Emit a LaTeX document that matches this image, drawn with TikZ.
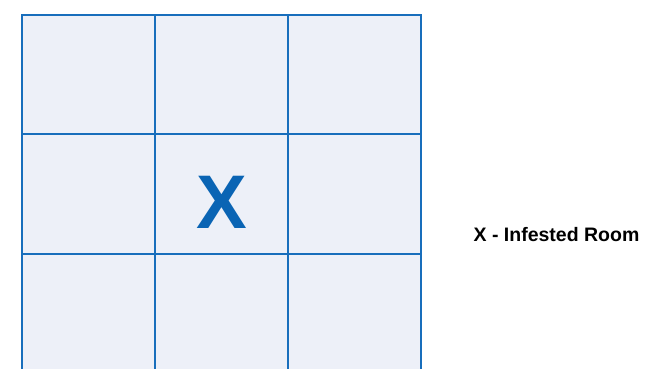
\documentclass[tikz,border=0pt]{standalone}
\usepackage{fontspec}
\setmainfont{Liberation Sans}
\usetikzlibrary{positioning}
\definecolor{roomfill}{RGB}{237,240,248}
\definecolor{roomline}{RGB}{24,110,188}
\definecolor{markblue}{RGB}{10,100,180}
\tikzset{
  room/.style={rectangle, draw=roomline, fill=roomfill, line width=2.2pt,
               minimum width=133pt, minimum height=119.5pt, inner sep=0pt},
  infest/.style={font=\fontsize{76}{76}\selectfont\bfseries, text=markblue,
                 inner sep=0pt, anchor=base},
  legendtext/.style={font=\fontsize{19.5}{19.5}\selectfont\bfseries, text=black,
                     inner sep=0pt, anchor=base},
}
\begin{document}
\begin{tikzpicture}[x=1pt, y=-1pt]
  \useasboundingbox (0,0) rectangle (648,368);
  \clip (0,0) rectangle (648,368);
  % 3x3 rooms
  \foreach \r in {0,1,2} {
    \foreach \c in {0,1,2} {
      \node[room] (room\r\c) at ({88.5+133*\c},{74.5+119.5*\r}) {};
    }
  }
  \node[infest] (mark) at ([yshift=-34pt]room11.center) {X};
  \node[legendtext] (legend) at (556.5,241) {X - Infested Room};
\end{tikzpicture}
\end{document}
